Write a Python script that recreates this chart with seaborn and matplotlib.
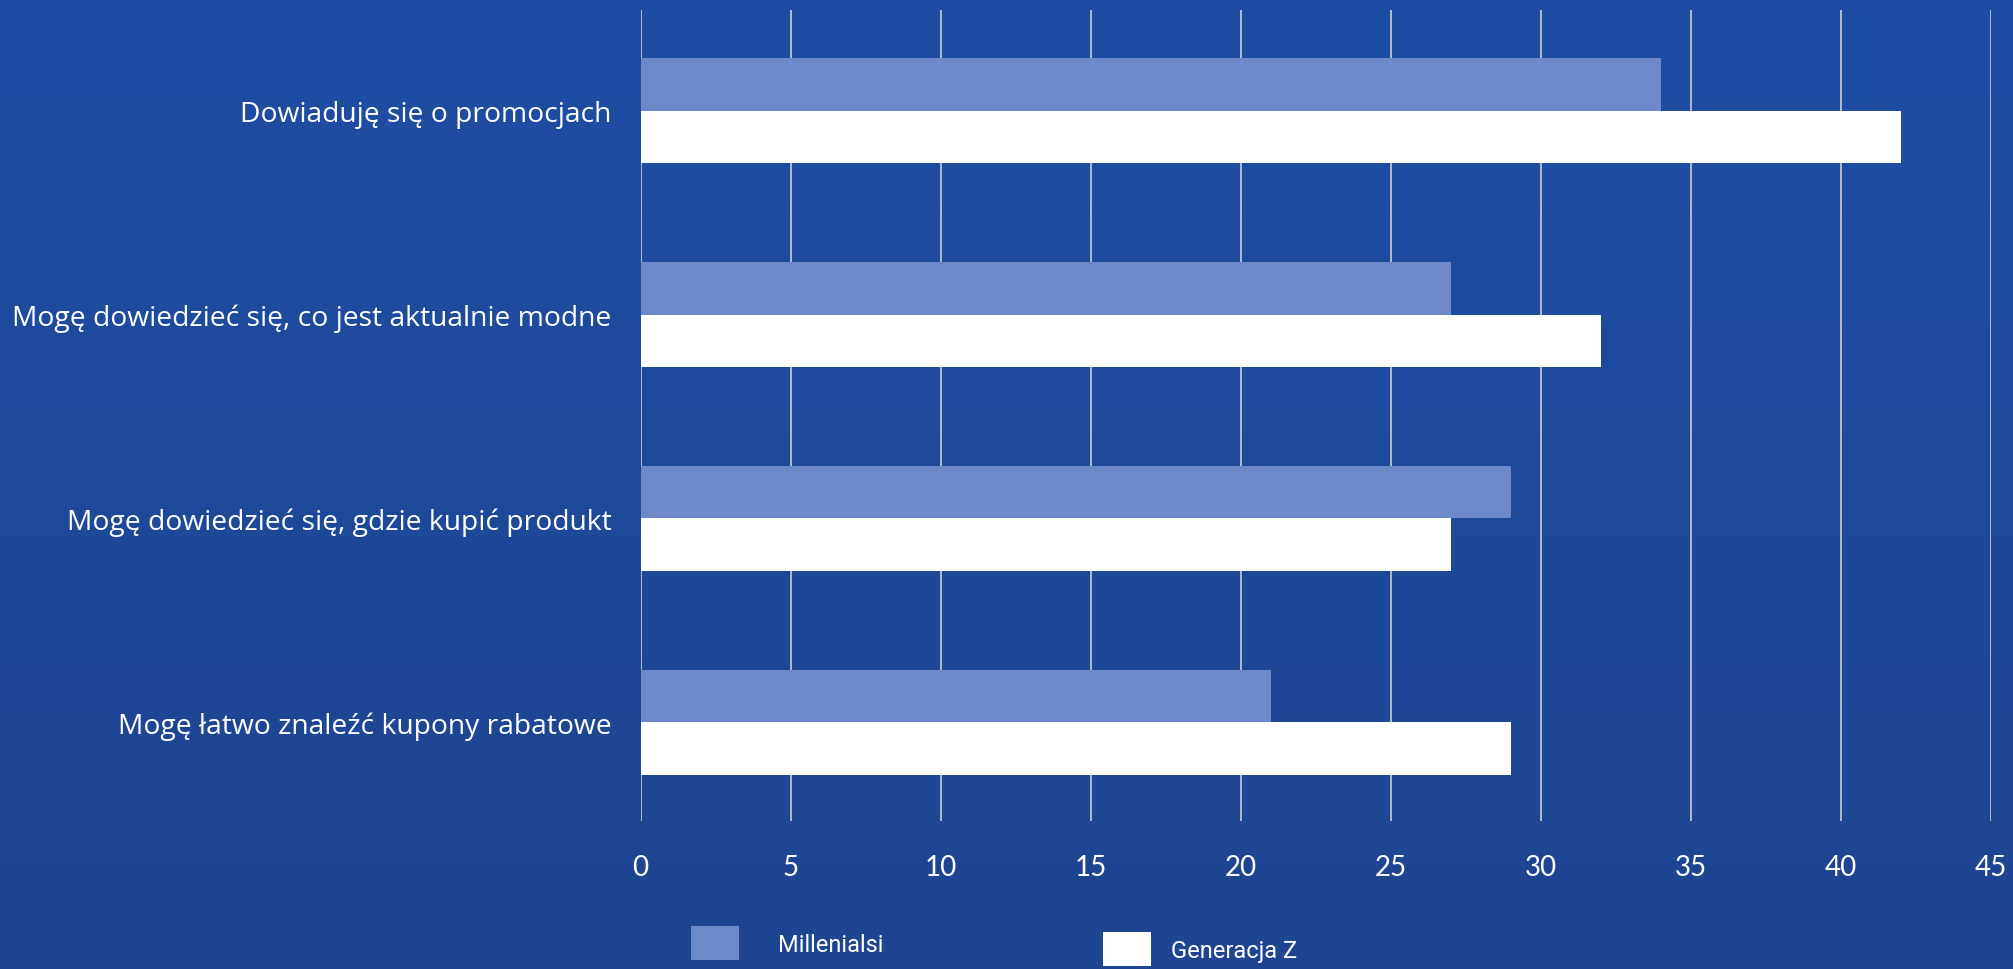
import numpy as np
import pandas as pd
import matplotlib
matplotlib.use("Agg")
import matplotlib.pyplot as plt
import seaborn as sns
from matplotlib.patches import Patch

categories = [
    "Dowiaduję się o promocjach",
    "Mogę dowiedzieć się, co jest aktualnie modne",
    "Mogę dowiedzieć się, gdzie kupić produkt",
    "Mogę łatwo znaleźć kupony rabatowe",
]
series_names = ["Millenialsi", "Generacja Z"]
millenialsi = [34, 27, 29, 21]
generacja_z = [42, 32, 27, 29]
x_ticks = [0, 5, 10, 15, 20, 25, 30, 35, 40, 45]

bar_colors = ["#6D89C9", "#FFFFFF"]
bg_top = np.array([0x1E, 0x4E, 0xA4]) / 255
bg_bottom = np.array([0x1D, 0x45, 0x91]) / 255
grid_color = "#D9D9D9"

df = pd.DataFrame({
    "kategoria": categories * 2,
    "seria": [series_names[0]] * 4 + [series_names[1]] * 4,
    "wartosc": millenialsi + generacja_z,
})

sns.set_theme(style="white")
plt.rcParams["font.family"] = ["Lato", "DejaVu Sans"]

fig = plt.figure(figsize=(20.13, 9.70), dpi=100)

# vertical gradient background
bg_ax = fig.add_axes([0, 0, 1, 1], zorder=-10)
t = np.linspace(0, 1, 256)[:, None]
grad = bg_top[None, None, :] * (1 - t[..., None]) + bg_bottom[None, None, :] * t[..., None]
grad = np.repeat(grad, 4, axis=1)
bg_ax.imshow(grad, aspect="auto", extent=[0, 1, 0, 1], origin="upper")
bg_ax.set_axis_off()

ax = fig.add_axes([0.3182, 0.1526, 0.6709, 0.8361])
ax.set_facecolor("none")

sns.barplot(
    data=df, y="kategoria", x="wartosc", hue="seria",
    hue_order=series_names, order=categories,
    palette=bar_colors, width=0.515, gap=0, orient="h",
    saturation=1, linewidth=0, legend=False, ax=ax, zorder=3,
)

ax.set_xlim(0, 45)
ax.set_ylim(3.485, -0.495)
ax.set_xticks(x_ticks)
ax.set_xticklabels([str(v) for v in x_ticks])
ax.grid(axis="x", color=grid_color, linewidth=1.1, zorder=0)
ax.grid(axis="y", visible=False)
ax.set_axisbelow(True)
for s in ax.spines.values():
    s.set_visible(False)
ax.set_xlabel("")
ax.set_ylabel("")
ax.tick_params(axis="x", length=0, pad=24, labelsize=20, labelcolor="white")
ax.tick_params(axis="y", length=0, pad=21, labelsize=20.3, labelcolor="white")
for lbl in ax.get_yticklabels():
    lbl.set_family(["Open Sans", "DejaVu Sans"])

# legend entries placed separately
fs = 17
fs_px = fs * 100 / 72
fig.legend(
    handles=[Patch(facecolor=bar_colors[0], edgecolor="none")],
    labels=[series_names[0]],
    loc="center left", bbox_to_anchor=(691 / 2013, 1 - 944 / 970),
    frameon=False, borderpad=0, borderaxespad=0,
    handlelength=48 / fs_px, handleheight=44 / fs_px, handletextpad=39 / fs_px,
    prop={"family": "Roboto", "size": fs}, labelcolor="white",
)
fig.legend(
    handles=[Patch(facecolor=bar_colors[1], edgecolor="none")],
    labels=[series_names[1]],
    loc="center left", bbox_to_anchor=(1103 / 2013, 1 - 950 / 970),
    frameon=False, borderpad=0, borderaxespad=0,
    handlelength=48 / fs_px, handleheight=44 / fs_px, handletextpad=20 / fs_px,
    prop={"family": "Roboto", "size": fs}, labelcolor="white",
)

fig.savefig("out.png", dpi=100)
